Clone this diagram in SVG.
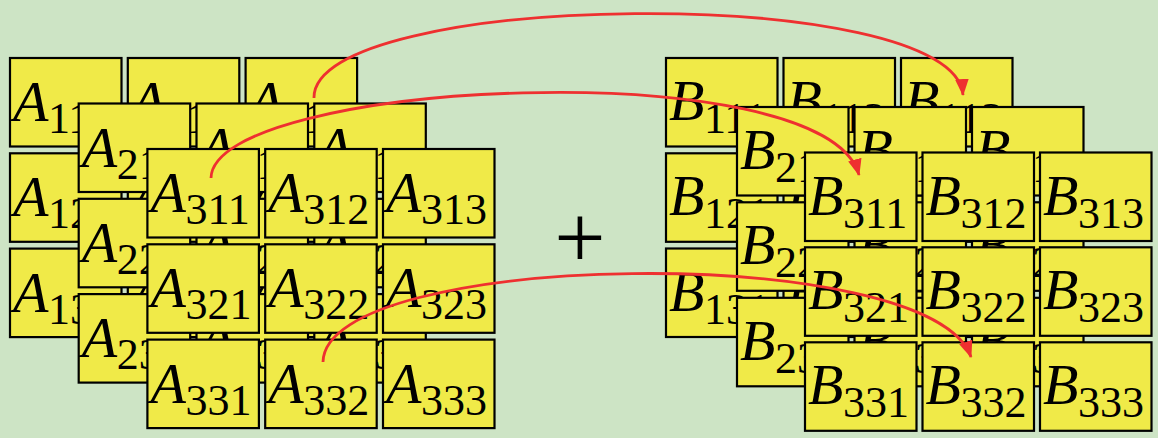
<svg xmlns="http://www.w3.org/2000/svg" width="1158" height="438" viewBox="0 0 1158 438">
<defs>
<style>
.c{fill:#f0ea48;stroke:#000;stroke-width:2.2}
.t{font-family:"Liberation Serif","Times New Roman",serif;font-style:italic;font-size:58px;fill:#000}
.s{font-style:normal;font-size:44px}
.plus{font-family:"Liberation Serif","Times New Roman",serif;font-size:91px;fill:#000}
.a{fill:none;stroke:#ee3030;stroke-width:2.8;marker-end:url(#ah)}
</style>
<marker id="ah" viewBox="0 0 16 13" refX="15" refY="6.5" markerWidth="17" markerHeight="14" markerUnits="userSpaceOnUse" orient="auto">
<path d="M0,0 L16,6.5 L0,13 z" fill="#ee3030"/>
</marker>
</defs>
<rect width="1158" height="438" fill="#cde4c5"/>
<g id="A-layer1">
<g id="A111" transform="translate(10,58)"><rect class="c" width="111.5" height="88.5"/><text class="t" x="3" y="63">A<tspan class="s" x="38" y="75">111</tspan></text></g>
<g id="A112" transform="translate(127.8,58)"><rect class="c" width="111.5" height="88.5"/><text class="t" x="3" y="63">A<tspan class="s" x="38" y="75">112</tspan></text></g>
<g id="A113" transform="translate(245.6,58)"><rect class="c" width="111.5" height="88.5"/><text class="t" x="3" y="63">A<tspan class="s" x="38" y="75">113</tspan></text></g>
<g id="A121" transform="translate(10,153.3)"><rect class="c" width="111.5" height="88.5"/><text class="t" x="3" y="63">A<tspan class="s" x="38" y="75">121</tspan></text></g>
<g id="A122" transform="translate(127.8,153.3)"><rect class="c" width="111.5" height="88.5"/><text class="t" x="3" y="63">A<tspan class="s" x="38" y="75">122</tspan></text></g>
<g id="A123" transform="translate(245.6,153.3)"><rect class="c" width="111.5" height="88.5"/><text class="t" x="3" y="63">A<tspan class="s" x="38" y="75">123</tspan></text></g>
<g id="A131" transform="translate(10,248.6)"><rect class="c" width="111.5" height="88.5"/><text class="t" x="3" y="63">A<tspan class="s" x="38" y="75">131</tspan></text></g>
<g id="A132" transform="translate(127.8,248.6)"><rect class="c" width="111.5" height="88.5"/><text class="t" x="3" y="63">A<tspan class="s" x="38" y="75">132</tspan></text></g>
<g id="A133" transform="translate(245.6,248.6)"><rect class="c" width="111.5" height="88.5"/><text class="t" x="3" y="63">A<tspan class="s" x="38" y="75">133</tspan></text></g>
</g>
<g id="A-layer2">
<g id="A211" transform="translate(78.7,103.5)"><rect class="c" width="111.5" height="88.5"/><text class="t" x="3" y="63">A<tspan class="s" x="38" y="75">211</tspan></text></g>
<g id="A212" transform="translate(196.5,103.5)"><rect class="c" width="111.5" height="88.5"/><text class="t" x="3" y="63">A<tspan class="s" x="38" y="75">212</tspan></text></g>
<g id="A213" transform="translate(314.3,103.5)"><rect class="c" width="111.5" height="88.5"/><text class="t" x="3" y="63">A<tspan class="s" x="38" y="75">213</tspan></text></g>
<g id="A221" transform="translate(78.7,198.8)"><rect class="c" width="111.5" height="88.5"/><text class="t" x="3" y="63">A<tspan class="s" x="38" y="75">221</tspan></text></g>
<g id="A222" transform="translate(196.5,198.8)"><rect class="c" width="111.5" height="88.5"/><text class="t" x="3" y="63">A<tspan class="s" x="38" y="75">222</tspan></text></g>
<g id="A223" transform="translate(314.3,198.8)"><rect class="c" width="111.5" height="88.5"/><text class="t" x="3" y="63">A<tspan class="s" x="38" y="75">223</tspan></text></g>
<g id="A231" transform="translate(78.7,294.1)"><rect class="c" width="111.5" height="88.5"/><text class="t" x="3" y="63">A<tspan class="s" x="38" y="75">231</tspan></text></g>
<g id="A232" transform="translate(196.5,294.1)"><rect class="c" width="111.5" height="88.5"/><text class="t" x="3" y="63">A<tspan class="s" x="38" y="75">232</tspan></text></g>
<g id="A233" transform="translate(314.3,294.1)"><rect class="c" width="111.5" height="88.5"/><text class="t" x="3" y="63">A<tspan class="s" x="38" y="75">233</tspan></text></g>
</g>
<g id="A-layer3">
<g id="A311" transform="translate(147.4,149)"><rect class="c" width="111.5" height="88.5"/><text class="t" x="3" y="63">A<tspan class="s" x="38" y="75">311</tspan></text></g>
<g id="A312" transform="translate(265.2,149)"><rect class="c" width="111.5" height="88.5"/><text class="t" x="3" y="63">A<tspan class="s" x="38" y="75">312</tspan></text></g>
<g id="A313" transform="translate(383,149)"><rect class="c" width="111.5" height="88.5"/><text class="t" x="3" y="63">A<tspan class="s" x="38" y="75">313</tspan></text></g>
<g id="A321" transform="translate(147.4,244.3)"><rect class="c" width="111.5" height="88.5"/><text class="t" x="3" y="63">A<tspan class="s" x="38" y="75">321</tspan></text></g>
<g id="A322" transform="translate(265.2,244.3)"><rect class="c" width="111.5" height="88.5"/><text class="t" x="3" y="63">A<tspan class="s" x="38" y="75">322</tspan></text></g>
<g id="A323" transform="translate(383,244.3)"><rect class="c" width="111.5" height="88.5"/><text class="t" x="3" y="63">A<tspan class="s" x="38" y="75">323</tspan></text></g>
<g id="A331" transform="translate(147.4,339.6)"><rect class="c" width="111.5" height="88.5"/><text class="t" x="3" y="63">A<tspan class="s" x="38" y="75">331</tspan></text></g>
<g id="A332" transform="translate(265.2,339.6)"><rect class="c" width="111.5" height="88.5"/><text class="t" x="3" y="63">A<tspan class="s" x="38" y="75">332</tspan></text></g>
<g id="A333" transform="translate(383,339.6)"><rect class="c" width="111.5" height="88.5"/><text class="t" x="3" y="63">A<tspan class="s" x="38" y="75">333</tspan></text></g>
</g>
<g id="B-layer1">
<g id="B111" transform="translate(666,58)"><rect class="c" width="111.5" height="88.5"/><text class="t" x="3" y="62">B<tspan class="s" x="38" y="75">111</tspan></text></g>
<g id="B112" transform="translate(783.5,58)"><rect class="c" width="111.5" height="88.5"/><text class="t" x="3" y="62">B<tspan class="s" x="38" y="75">112</tspan></text></g>
<g id="B113" transform="translate(901,58)"><rect class="c" width="111.5" height="88.5"/><text class="t" x="3" y="62">B<tspan class="s" x="38" y="75">113</tspan></text></g>
<g id="B121" transform="translate(666,153.3)"><rect class="c" width="111.5" height="88.5"/><text class="t" x="3" y="62">B<tspan class="s" x="38" y="75">121</tspan></text></g>
<g id="B122" transform="translate(783.5,153.3)"><rect class="c" width="111.5" height="88.5"/><text class="t" x="3" y="62">B<tspan class="s" x="38" y="75">122</tspan></text></g>
<g id="B123" transform="translate(901,153.3)"><rect class="c" width="111.5" height="88.5"/><text class="t" x="3" y="62">B<tspan class="s" x="38" y="75">123</tspan></text></g>
<g id="B131" transform="translate(666,248.5)"><rect class="c" width="111.5" height="88.5"/><text class="t" x="3" y="62">B<tspan class="s" x="38" y="75">131</tspan></text></g>
<g id="B132" transform="translate(783.5,248.5)"><rect class="c" width="111.5" height="88.5"/><text class="t" x="3" y="62">B<tspan class="s" x="38" y="75">132</tspan></text></g>
<g id="B133" transform="translate(901,248.5)"><rect class="c" width="111.5" height="88.5"/><text class="t" x="3" y="62">B<tspan class="s" x="38" y="75">133</tspan></text></g>
</g>
<g id="B-layer2">
<g id="B211" transform="translate(737,107)"><rect class="c" width="111.5" height="88.5"/><text class="t" x="3" y="62">B<tspan class="s" x="38" y="75">211</tspan></text></g>
<g id="B212" transform="translate(854.5,107)"><rect class="c" width="111.5" height="88.5"/><text class="t" x="3" y="62">B<tspan class="s" x="38" y="75">212</tspan></text></g>
<g id="B213" transform="translate(972,107)"><rect class="c" width="111.5" height="88.5"/><text class="t" x="3" y="62">B<tspan class="s" x="38" y="75">213</tspan></text></g>
<g id="B221" transform="translate(737,202.3)"><rect class="c" width="111.5" height="88.5"/><text class="t" x="3" y="62">B<tspan class="s" x="38" y="75">221</tspan></text></g>
<g id="B222" transform="translate(854.5,202.3)"><rect class="c" width="111.5" height="88.5"/><text class="t" x="3" y="62">B<tspan class="s" x="38" y="75">222</tspan></text></g>
<g id="B223" transform="translate(972,202.3)"><rect class="c" width="111.5" height="88.5"/><text class="t" x="3" y="62">B<tspan class="s" x="38" y="75">223</tspan></text></g>
<g id="B231" transform="translate(737,297.8)"><rect class="c" width="111.5" height="88.5"/><text class="t" x="3" y="62">B<tspan class="s" x="38" y="75">231</tspan></text></g>
<g id="B232" transform="translate(854.5,297.8)"><rect class="c" width="111.5" height="88.5"/><text class="t" x="3" y="62">B<tspan class="s" x="38" y="75">232</tspan></text></g>
<g id="B233" transform="translate(972,297.8)"><rect class="c" width="111.5" height="88.5"/><text class="t" x="3" y="62">B<tspan class="s" x="38" y="75">233</tspan></text></g>
</g>
<g id="B-layer3">
<g id="B311" transform="translate(805,152.5)"><rect class="c" width="111.5" height="88.5"/><text class="t" x="3" y="62">B<tspan class="s" x="38" y="75">311</tspan></text></g>
<g id="B312" transform="translate(922.5,152.5)"><rect class="c" width="111.5" height="88.5"/><text class="t" x="3" y="62">B<tspan class="s" x="38" y="75">312</tspan></text></g>
<g id="B313" transform="translate(1040,152.5)"><rect class="c" width="111.5" height="88.5"/><text class="t" x="3" y="62">B<tspan class="s" x="38" y="75">313</tspan></text></g>
<g id="B321" transform="translate(805,247.3)"><rect class="c" width="111.5" height="88.5"/><text class="t" x="3" y="62">B<tspan class="s" x="38" y="75">321</tspan></text></g>
<g id="B322" transform="translate(922.5,247.3)"><rect class="c" width="111.5" height="88.5"/><text class="t" x="3" y="62">B<tspan class="s" x="38" y="75">322</tspan></text></g>
<g id="B323" transform="translate(1040,247.3)"><rect class="c" width="111.5" height="88.5"/><text class="t" x="3" y="62">B<tspan class="s" x="38" y="75">323</tspan></text></g>
<g id="B331" transform="translate(805,342.3)"><rect class="c" width="111.5" height="88.5"/><text class="t" x="3" y="62">B<tspan class="s" x="38" y="75">331</tspan></text></g>
<g id="B332" transform="translate(922.5,342.3)"><rect class="c" width="111.5" height="88.5"/><text class="t" x="3" y="62">B<tspan class="s" x="38" y="75">332</tspan></text></g>
<g id="B333" transform="translate(1040,342.3)"><rect class="c" width="111.5" height="88.5"/><text class="t" x="3" y="62">B<tspan class="s" x="38" y="75">333</tspan></text></g>
</g>
<g id="plus"><text class="plus" x="580" y="268" text-anchor="middle">+</text></g>
<g id="connectors">
<path class="a" d="M314,98 C312,-10 955,-18 963,95"/>
<path class="a" d="M211,178 C213,80 825,50 859,175"/>
<path class="a" d="M323,362 C325,250 930,240 971,357"/>
</g>
</svg>
